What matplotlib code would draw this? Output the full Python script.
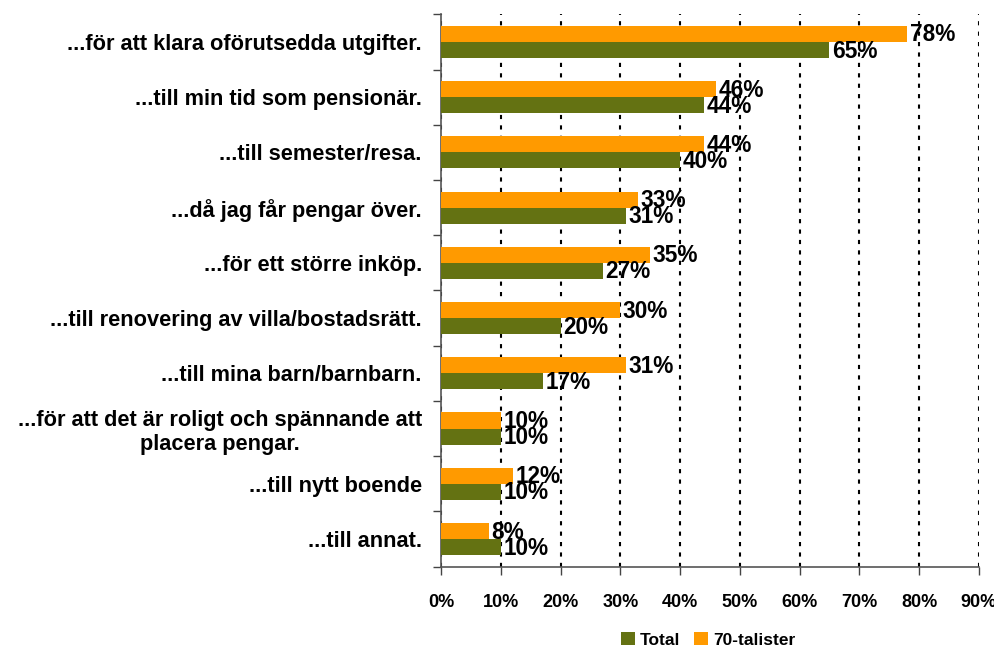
import matplotlib
matplotlib.use("Agg")
import matplotlib.pyplot as plt
import numpy as np
from matplotlib.ticker import MultipleLocator, FuncFormatter

categories = [
    "...för att klara oförutsedda utgifter.",
    "...till min tid som pensionär.",
    "...till semester/resa.",
    "...då jag får pengar över.",
    "...för ett större inköp.",
    "...till renovering av villa/bostadsrätt.",
    "...till mina barn/barnbarn.",
    "...för att det är roligt och spännande att\nplacera pengar.",
    "...till nytt boende",
    "...till annat.",
]
total = [65, 44, 40, 31, 27, 20, 17, 10, 10, 10]
talister70 = [78, 46, 44, 33, 35, 30, 31, 10, 12, 8]
series_names = ["Total", "70-talister"]

plt.rcParams['font.family'] = ['Liberation Sans', 'DejaVu Sans']
plt.rcParams['font.weight'] = 'bold'

fig = plt.figure(figsize=(9.95, 6.49), dpi=100)
ax = fig.add_axes([0.4435, 0.127, 0.9837 - 0.4435, 0.978 - 0.127])

green = "#647212"
orange = "#FF9A00"
n = len(categories)
y = np.arange(n)
h = 0.29

b1 = ax.barh(y + h / 2, total, height=h, color=green, label=series_names[0], zorder=3)
b2 = ax.barh(y - h / 2, talister70, height=h, color=orange, label=series_names[1], zorder=3)

for rect, v in zip(b1, total):
    ax.text(rect.get_width() + 0.4, rect.get_y() + rect.get_height() / 2 + 0.02, f"{v}%",
            va="center", ha="left", fontsize=16.3, fontweight="bold", zorder=4)
for rect, v in zip(b2, talister70):
    ax.text(rect.get_width() + 0.4, rect.get_y() + rect.get_height() / 2 + 0.02, f"{v}%",
            va="center", ha="left", fontsize=16.3, fontweight="bold", zorder=4)

ax.set_ylim(n - 0.5, -0.5)
ax.set_xlim(0, 90)
ax.set_yticks(y)
ax.set_yticklabels(categories, fontsize=15.7, fontweight="bold", ha="right",
                   multialignment="center")
ax.set_yticks(np.arange(-0.5, n, 1), minor=True)
ax.tick_params(axis="y", which="major", length=0, pad=14)
ax.tick_params(axis="y", which="minor", length=6, width=1, color="#444444", direction="out")
ax.xaxis.set_major_locator(MultipleLocator(10))
ax.xaxis.set_major_formatter(FuncFormatter(lambda v, p: f"{int(round(v))}%"))
ax.tick_params(axis="x", which="major", length=6, width=1, color="#444444", direction="out",
               labelsize=13, pad=14)
for lbl in ax.get_xticklabels():
    lbl.set_fontweight("bold")

ax.grid(axis="x", color="black", linestyle=(0, (2, 3)), linewidth=1.5, zorder=0)
for s in ["top", "right"]:
    ax.spines[s].set_visible(False)
for s in ["left", "bottom"]:
    ax.spines[s].set_color("#555555")
    ax.spines[s].set_linewidth(1.2)

leg = fig.legend(handles=[b1, b2], labels=series_names, loc="center",
                 bbox_to_anchor=(0.712, 0.014), ncol=2, frameon=False,
                 prop={"weight": "bold", "size": 12.5}, handlelength=0.8, handleheight=0.8,
                 handletextpad=0.3, columnspacing=0.8)

fig.savefig("out.png", dpi=100)
